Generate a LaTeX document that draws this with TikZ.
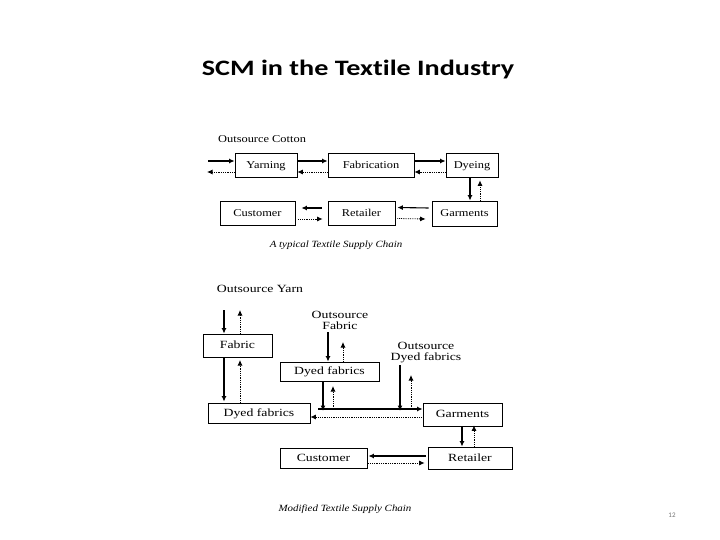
\documentclass[tikz,border=0pt]{standalone}
\usepackage{fontspec}
\setmainfont{Liberation Serif}
\newfontfamily\titlefont[Ligatures=NoCommon,FakeStretch=1.28]{Carlito}
\newfontfamily\pgfont{Carlito}
\newfontfamily\topfont[FakeStretch=1.18]{Liberation Serif}
\newfontfamily\botfont[FakeStretch=1.25]{Liberation Serif}
\newfontfamily\capfont[FakeStretch=1.15]{Liberation Serif}
\usetikzlibrary{arrows.meta,calc}
\tikzset{
  bx/.style={draw=black, line width=0.8pt, inner sep=0pt, fill=white, text height=1.6ex, text depth=0.15ex},
  tbx/.style={bx, font=\topfont\fontsize{10.5}{12}\selectfont},
  bbx/.style={bx, font=\botfont\fontsize{11}{12}\selectfont},
  lbl/.style={inner sep=0pt, align=center, font=\botfont\fontsize{11}{11}\selectfont},
  sol/.style={-{Latex[length=5.5pt,width=5pt]}, line width=1.1pt},
  dot/.style={-{Latex[length=5.5pt,width=5pt]}, line width=0.8pt, densely dotted},
}
\begin{document}
\begin{tikzpicture}[x=1pt,y=-1pt]
\useasboundingbox (0,0) rectangle (720,540);
% title
\node[font=\titlefont\bfseries\fontsize{22}{26}\selectfont, inner sep=0pt] (title) at (358,70) {SCM in the Textile Industry};

% ---------- top diagram ----------
\node[inner sep=0pt, anchor=west, font=\topfont\fontsize{10.5}{12}\selectfont] (oc) at (218,139) {Outsource Cotton};
\node[tbx, minimum width=62pt, minimum height=24pt] (yarn) at (266,165) {Yarning};
\node[tbx, minimum width=86pt, minimum height=24pt] (fab) at (371,165) {Fabrication};
\node[tbx, minimum width=52pt, minimum height=24pt] (dye) at (472,165) {Dyeing};
\node[tbx, minimum width=75pt, minimum height=24pt] (cust) at (257.5,213) {Customer};
\node[tbx, minimum width=67pt, minimum height=24pt] (ret) at (361.5,213) {Retailer};
\node[tbx, minimum width=65pt, minimum height=25pt] (gar) at (464.5,213.5) {Garments};

\coordinate (inS) at (208,161);
\coordinate (inD) at (207,172);
\draw[sol] (inS) -- (inS -| yarn.west);
\draw[dot] (inD -| yarn.west) -- (inD);
\draw[sol] ([yshift=4pt]yarn.east) -- ([yshift=4pt]fab.west);
\draw[dot] ([yshift=-7pt]fab.west) -- ([yshift=-7pt]yarn.east);
\draw[sol] ([yshift=4pt]fab.east) -- ([yshift=4pt]dye.west);
\draw[dot] ([yshift=-7pt]dye.west) -- ([yshift=-7pt]fab.east);
\coordinate (dd1) at ([xshift=-2pt]dye.south);
\coordinate (dd2) at ([xshift=8pt]dye.south);
\draw[sol] (dd1) -- (dd1 |- gar.north);
\draw[dot] (dd2 |- gar.north) -- ([yshift=-3pt]dd2);
\draw[sol] ([yshift=5.5pt,xshift=-3pt]gar.west) -- ([yshift=5.5pt,xshift=2pt]ret.east);
\draw[dot] ([yshift=-5.5pt,xshift=2pt]ret.east) -- ([yshift=-5.5pt,xshift=-6pt]gar.west);
\draw[sol] ([yshift=5pt,xshift=-6pt]ret.west) -- ([yshift=5pt,xshift=6pt]cust.east);
\draw[dot] ([yshift=-6pt,xshift=3pt]cust.east) -- ([yshift=-6pt,xshift=-5pt]ret.west);

\node[inner sep=0pt, font=\capfont\itshape\fontsize{9.5}{11}\selectfont] (cap1) at (336,245) {A typical Textile Supply Chain};

% ---------- bottom diagram ----------
\node[lbl] (oy) at (260,289) {Outsource Yarn};
\node[lbl] (of) at (340,320) {Outsource\\Fabric};
\node[lbl] (odf) at (426,353) {Outsource\\Dyed fabrics};
\node[bbx, minimum width=69pt, minimum height=23pt] (fabric) at (237.5,345.5) {Fabric};
\node[bbx, minimum width=102pt, minimum height=20pt] (dyedL) at (259,413) {Dyed fabrics};
\node[bbx, minimum width=99pt, minimum height=19pt] (dyedM) at (329.5,371.5) {Dyed fabrics};
\node[bbx, minimum width=79pt, minimum height=23pt] (garB) at (462.5,414.5) {Garments};
\node[bbx, minimum width=84pt, minimum height=22pt] (retB) at (470,458) {Retailer};
\node[bbx, minimum width=87pt, minimum height=20pt] (custB) at (323.5,458) {Customer};

% Outsource Yarn <-> Fabric
\coordinate (oy1) at (224,310);
\coordinate (oy2) at (240,310);
\draw[sol] (oy1) -- (oy1 |- fabric.north);
\draw[dot] (oy2 |- fabric.north) -- (oy2);
% Fabric <-> Dyed fabrics (left)
\coordinate (fd1) at (224,357);
\coordinate (fd2) at (240,360);
\draw[sol] (fd1) -- ([yshift=1pt]fd1 |- dyedL.north);
\draw[dot] (fd2 |- dyedL.north) -- (fd2);
% Outsource Fabric <-> Dyed fabrics (middle)
\coordinate (of1) at (328,332);
\coordinate (of2) at (343,342);
\draw[sol] (of1) -- (of1 |- dyedM.north);
\draw[dot] (of2 |- dyedM.north) -- (of2);
% junction line
\coordinate (jl) at (318,409);
\draw[sol] (jl) -- (jl -| garB.west);
\draw[dot] ([yshift=-2.5pt,xshift=-1pt]garB.west) -- ([yshift=-4pt]dyedL.east);
% Dyed fabrics (middle) <-> line
\coordinate (dm1) at (323,381);
\coordinate (dm2) at (333,386);
\draw[sol] (dm1) -- ([yshift=-2pt]dm1 |- jl);
\draw[dot] (dm2 |- jl) -- (dm2);
% Outsource Dyed fabrics <-> line
\coordinate (od1) at (400,365);
\coordinate (od2) at (411,375);
\draw[sol] (od1) -- ([yshift=-2pt]od1 |- jl);
\draw[dot] (od2 |- jl) -- (od2);
% Garments <-> Retailer
\coordinate (gr1) at (462,426);
\coordinate (gr2) at (474,426);
\draw[sol] (gr1 |- garB.south) -- (gr1 |- retB.north);
\draw[dot] (gr2 |- retB.north) -- ([yshift=1pt]gr2 |- garB.south);
% Retailer <-> Customer
\draw[sol] ([yshift=2pt,xshift=-2pt]retB.west) -- ([yshift=2pt,xshift=1pt]custB.east);
\draw[dot] ([yshift=-5pt,xshift=1pt]custB.east) -- ([yshift=-5pt,xshift=-3pt]retB.west);

\node[inner sep=0pt, font=\capfont\itshape\fontsize{9.5}{11}\selectfont] (cap2) at (345,509) {Modified Textile Supply Chain};
\node[inner sep=0pt, text=black!55, font=\pgfont\fontsize{7}{8}\selectfont] (pg) at (672,515) {12};
\end{tikzpicture}
\end{document}
